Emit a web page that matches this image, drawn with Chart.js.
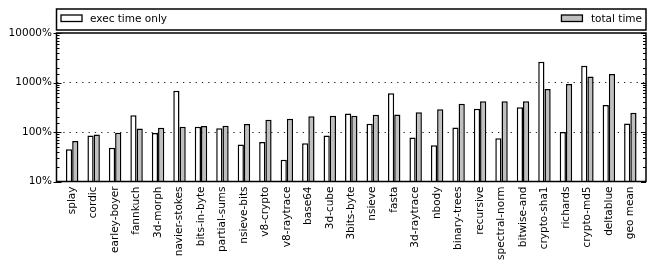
<!DOCTYPE html>
<html>
<head>
<meta charset="utf-8">
<script src="https://cdn.jsdelivr.net/npm/chart.js@4.4.1/dist/chart.umd.min.js"></script>
<style>
  html, body { margin: 0; padding: 0; background: #fff; }
</style>
</head>
<body>
<canvas id="chart" width="657" height="269"></canvas>
<script>
const benchmarks = ['splay', 'cordic', 'earley-boyer', 'fannkuch', '3d-morph', 'navier-stokes',
  'bits-in-byte', 'partial-sums', 'nsieve-bits', 'v8-crypto', 'v8-raytrace', 'base64', '3d-cube',
  '3bits-byte', 'nsieve', 'fasta', '3d-raytrace', 'nbody', 'binary-trees', 'recursive',
  'spectral-norm', 'bitwise-and', 'crypto-sha1', 'richards', 'crypto-md5', 'deltablue', 'geo mean'];
const execTime = [45, 85, 48, 219, 95, 682, 128, 119, 56, 63, 27.5, 59, 85, 236, 147, 603, 77, 54,
  124, 294, 75, 316, 2630, 100, 2188, 353, 149];
const totalTime = [66, 89, 97, 117, 122, 128, 132, 134, 145, 177, 185, 209, 213, 213, 223, 226, 251,
  288, 370, 417, 417, 417, 738, 929, 1318, 1493, 244];
const decades = [10, 100, 1000, 10000];
const gridDecades = [100, 1000];

const FONT = 'DejaVu Sans';

// frame, inward ticks and the matplotlib-style expanded legend box
const frameAndLegend = {
  id: 'frameAndLegend',
  afterDatasetsDraw(chart) {
    const { ctx, chartArea: a, scales: { y } } = chart;
    ctx.save();
    ctx.strokeStyle = '#000';
    ctx.lineWidth = 1;
    y.ticks.forEach(t => {
      const py = Math.round(y.getPixelForValue(t.value)) + 0.5;
      const major = decades.includes(t.value);
      ctx.beginPath();
      ctx.moveTo(a.left - (major ? 3 : 0), py);
      ctx.lineTo(a.left + (major ? 5 : 3), py);
      ctx.moveTo(a.right - (major ? 5 : 3), py);
      ctx.lineTo(a.right, py);
      ctx.stroke();
    });
    ctx.lineWidth = 1.5;
    ctx.strokeRect(a.left, a.top, a.right - a.left, a.bottom - a.top);

    // legend
    const top = 9, bottom = 30;
    ctx.fillStyle = '#fff';
    ctx.fillRect(a.left, top, a.right - a.left, bottom - top);
    ctx.strokeRect(a.left, top, a.right - a.left, bottom - top);
    ctx.font = '10.5px "' + FONT + '"';
    ctx.textBaseline = 'middle';
    ctx.lineWidth = 1.3;
    const ds = chart.data.datasets;
    // left item
    ctx.fillStyle = ds[0].backgroundColor;
    ctx.fillRect(a.left + 4.5, 15, 21, 6.5);
    ctx.strokeRect(a.left + 4.5, 15, 21, 6.5);
    ctx.fillStyle = '#000';
    ctx.textAlign = 'left';
    ctx.fillText(ds[0].label, a.left + 33.5, 19);
    // right item
    const tw = ctx.measureText(ds[1].label).width;
    const tx = a.right - 4 - tw;
    ctx.fillStyle = ds[1].backgroundColor;
    ctx.fillRect(tx - 29.5, 15, 21, 6.5);
    ctx.strokeRect(tx - 29.5, 15, 21, 6.5);
    ctx.fillStyle = '#000';
    ctx.fillText(ds[1].label, tx, 19);
    ctx.restore();
  }
};

const ctx = document.getElementById('chart').getContext('2d');
new Chart(ctx, {
  type: 'bar',
  data: {
    datasets: [{
      label: 'exec time only',
      data: execTime.map((v, i) => ({ x: i, y: v })),
      backgroundColor: '#ffffff',
      borderColor: '#000',
      borderWidth: 1.5
    }, {
      label: 'total time',
      data: totalTime.map((v, i) => ({ x: i, y: v })),
      backgroundColor: '#bfbfbf',
      borderColor: '#000',
      borderWidth: 1.5
    }]
  },
  options: {
    responsive: false,
    animation: false,
    categoryPercentage: 0.58,
    barPercentage: 1.0,
    layout: { padding: { top: 33, right: 11, left: 0, bottom: 0 } },
    plugins: { legend: { display: false }, tooltip: { enabled: false } },
    scales: {
      x: {
        type: 'linear',
        min: -0.73,
        max: benchmarks.length - 1 + 0.73,
        offset: false,
        border: { display: false },
        grid: { display: false, drawTicks: false },
        afterFit: s => { s.height = 87.5; },
        ticks: {
          stepSize: 1,
          includeBounds: false,
          autoSkip: false,
          minRotation: 90,
          maxRotation: 90,
          padding: 5,
          color: '#000',
          font: { family: FONT, size: 10.5 },
          callback: v => Number.isInteger(v) ? benchmarks[v] : ''
        }
      },
      y: {
        type: 'logarithmic',
        min: 10,
        max: 10000,
        border: { display: false, dash: [1.3, 5] },
        grid: {
          drawTicks: false,
          lineWidth: c => gridDecades.includes(c.tick.value) ? 1 : 0,
          color: c => gridDecades.includes(c.tick.value) ? '#222' : 'rgba(0,0,0,0)'
        },
        afterFit: s => { s.width = 56.5; },
        ticks: {
          autoSkip: false,
          padding: 4.5,
          color: '#000',
          font: { family: FONT, size: 10.5 },
          callback: v => decades.includes(v) ? v + '%' : ''
        }
      }
    }
  },
  plugins: [frameAndLegend]
});
</script>
</body>
</html>
